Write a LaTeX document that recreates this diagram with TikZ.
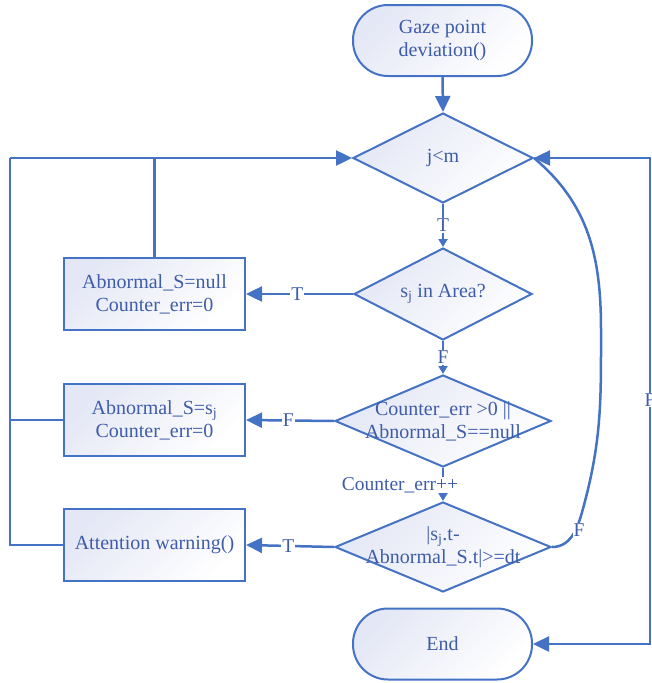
\documentclass[tikz,border=0pt]{standalone}
\usepackage{fontspec}
\setmainfont{Liberation Serif}
\usetikzlibrary{shapes.geometric,arrows.meta}
\definecolor{lineblue}{RGB}{68,114,196}
\definecolor{textblue}{RGB}{62,92,170}
\definecolor{lav}{RGB}{228,231,245}
\begin{document}
\begin{tikzpicture}[x=1pt,y=-1pt,
  every node/.style={font=\fontsize{20}{23}\selectfont, text=textblue},
  grad/.style={top color=lav, bottom color=white, shading angle=45},
  term/.style={draw=lineblue, line width=2pt, grad, rounded corners=35pt, minimum width=179pt, minimum height=71pt, align=center, inner sep=0pt},
  procbox/.style={draw=lineblue, line width=2pt, grad, minimum width=181pt, minimum height=72pt, align=center, inner sep=0pt},
  dia/.style={draw=lineblue, line width=2pt, grad, diamond, inner sep=0pt},
  txt/.style={align=center, inner sep=0pt},
  conn/.style={draw=lineblue, line width=2.5pt},
  arr/.style={conn, -{Triangle[length=16pt,width=15pt]}},
  sarr/.style={conn, -{Triangle[length=8pt,width=9pt]}},
  lbl/.style={fill=white, inner sep=1pt, font=\fontsize{19.5}{22}\selectfont}
]
\useasboundingbox (0,0) rectangle (651,683);

\node[term] (start) at (442.5,40.5) {Gaze point\\deviation()};
\node[dia, minimum width=180pt, minimum height=90pt] (d1) at (443,158) {};
\node[txt] (t1) at (d1) {j<m};
\node[dia, minimum width=178pt, minimum height=92pt] (d2) at (443,294) {};
\node[txt] (t2) at (d2) {s\textsubscript{j} in Area?};
\node[dia, minimum width=216pt, minimum height=92pt] (d3) at (443,421) {};
\node[txt] (t3) at (d3) {Counter\_err >0 ||\\Abnormal\_S==null};
\node[dia, minimum width=216pt, minimum height=90pt] (d4) at (443,547) {};
\node[txt] (t4) at (d4) {|s\textsubscript{j}.t-\\Abnormal\_S.t|>=dt};
\node[term] (end) at (442.5,644) {End};

\node[procbox] (b1) at (154.5,294) {Abnormal\_S=null\\Counter\_err=0};
\node[procbox] (b2) at (154.5,420) {Abnormal\_S=s\textsubscript{j}\\Counter\_err=0};
\node[procbox] (b3) at (154.5,545) {Attention warning()};

% vertical flow
\draw[arr] (start.south) -- (d1.north);
\draw[sarr] (d1.south) -- (d2.north) node[lbl, midway] (lt1) {T};
\draw[sarr] (d2.south) -- (d3.north) node[lbl, midway] (lf1) {F};
\draw[sarr] (d3.south) -- (d4.north);
\node[lbl, inner sep=0pt] (lc) at (400,485) {Counter\_err++};

% horizontal branches
\draw[arr] (d2.west) -- (b1.east) node[lbl, pos=0.52] (lt2) {T};
\draw[arr] (d3.west) -- (b2.east) node[lbl, pos=0.52] (lf2) {F};
\draw[arr] (d4.west) -- (b3.east) node[lbl, pos=0.52] (lt3) {T};

% left loop back
\coordinate (L1) at (10,158);
\coordinate (L2) at (10,420);
\draw[arr] (L1) -- (d1.west);
\draw[conn] (b1.north) -- (b1.north |- L1);
\draw[conn] (b2.west) -- (L2);
\draw[conn] (b3.west) -| (L1);

% right: j<m false -> End
\coordinate (R1) at (650,158);
\coordinate (R2) at (650,644);
\draw[conn, {Triangle[length=16pt,width=15pt]}-{Triangle[length=16pt,width=15pt]}] (d1.east) -- (R1) -- (R2) -- (end.east);
\node[lbl] (lf4) at (650,400) {F};

% F curve from d4 back to d1
\coordinate (c1) at (584,505);
\coordinate (c2) at (601,330);
\draw[conn] (d4.east) to[out=0,in=-105] (c1) to[out=75,in=-90] (c2) to[out=90,in=-40] (d1.east);
\node[lbl] (lf3) at (579,530) {F};
\end{tikzpicture}
\end{document}
